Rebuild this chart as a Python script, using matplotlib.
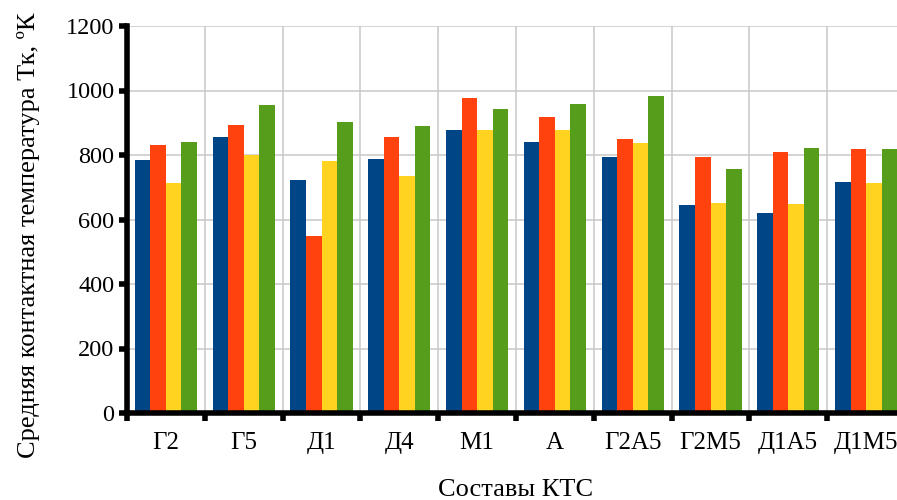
import matplotlib
matplotlib.use("Agg")
import matplotlib.pyplot as plt
import numpy as np

plt.rcParams['font.family'] = ['Liberation Serif', 'DejaVu Serif']

categories = ["Г2", "Г5", "Д1", "Д4", "М1", "А", "Г2А5", "Г2М5", "Д1А5", "Д1М5"]
series_1 = [785, 857, 723, 788, 879, 841, 795, 646, 621, 717]
series_2 = [832, 894, 550, 857, 978, 919, 851, 795, 810, 820]
series_3 = [714, 800, 782, 736, 876, 876, 838, 652, 649, 714]
series_4 = [841, 956, 903, 891, 944, 959, 984, 758, 823, 820]
series = [series_1, series_2, series_3, series_4]
colors = ["#004586", "#ff420e", "#ffd320", "#579d1c"]

y_ticks = [0, 200, 400, 600, 800, 1000, 1200]

fig = plt.figure(figsize=(8.97, 5.0), dpi=100)
ax = fig.add_axes([127 / 897, 1 - 413 / 500, (905 - 127) / 897, (413 - 26) / 500])

x = np.arange(len(categories))
width = 0.2
for i, (vals, c) in enumerate(zip(series, colors)):
    ax.bar(x + (i - 1.5) * width, vals, width=width, color=c, linewidth=0, zorder=3)

ax.set_xlim(-0.5, len(categories) - 0.5)
ax.set_ylim(0, 1200)
ax.set_yticks(y_ticks)
ax.set_yticklabels([str(v) for v in y_ticks])
ax.set_xticks(x)
ax.set_xticklabels(categories)
ax.set_xticks(np.arange(-0.5, len(categories) + 0.5, 1), minor=True)

ax.tick_params(axis='x', which='major', length=0, pad=14, labelsize=18)
ax.tick_params(axis='x', which='minor', length=6, width=4, color='black')
ax.tick_params(axis='y', which='major', length=6, width=4, color='black', pad=3, labelsize=17.5)

ax.grid(True, axis='y', which='major', color='#c8c8c8', linewidth=1.1, zorder=0)
ax.grid(True, axis='x', which='minor', color='#c8c8c8', linewidth=1.1, zorder=0)
ax.grid(False, axis='x', which='major')

for side in ['top', 'right']:
    ax.spines[side].set_visible(False)
for side in ['left', 'bottom']:
    ax.spines[side].set_linewidth(4)
    ax.spines[side].set_color('black')
    ax.spines[side].set_zorder(4)

ax.set_ylabel("Средняя контактная температура Тк, ºК", fontsize=19)
ax.yaxis.set_label_coords(-0.112, 0.46)
ax.set_xlabel("Составы КТС", fontsize=19, labelpad=18)

fig.savefig("out.png", dpi=100)
